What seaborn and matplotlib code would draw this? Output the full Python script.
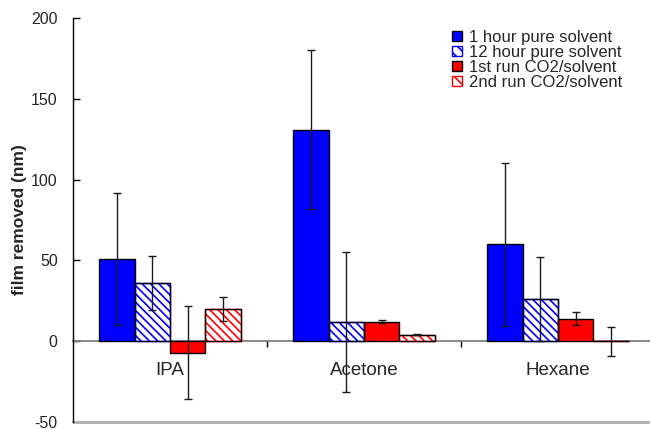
import numpy as np
import pandas as pd
import matplotlib
matplotlib.use("Agg")
import matplotlib.pyplot as plt
import matplotlib.patches as mpatches
from matplotlib.ticker import FixedLocator
import seaborn as sns

categories = ["IPA", "Acetone", "Hexane"]
series = ["1 hour pure solvent", "12 hour pure solvent",
          "1st run CO2/solvent", "2nd run CO2/solvent"]
one_hour = [51, 131, 60]
twelve_hour = [36, 12, 26]
first_run = [-7, 12, 14]
second_run = [20, 4, 0]
one_hour_err = [41, 49, 50.5]
twelve_hour_err = [17, 43.5, 26]
first_run_err = [29, 1, 4]
second_run_err = [7.5, 0.4, 9]
yticks = [-50, 0, 50, 100, 150, 200]

values = [one_hour, twelve_hour, first_run, second_run]
errors = [one_hour_err, twelve_hour_err, first_run_err, second_run_err]
colors = ["#0000FF", "#0000FF", "#FF0000", "#FF0000"]
hatched = [False, True, False, True]

sns.set_theme(style="white")
plt.rcParams["font.family"] = ["Liberation Sans", "DejaVu Sans"]
plt.rcParams["hatch.linewidth"] = 1.2

df = pd.DataFrame({
    "solvent": categories * len(series),
    "series": [s for s in series for _ in categories],
    "value": [v for vals in values for v in vals],
})

fig = plt.figure(figsize=(6.5, 4.3), dpi=100)
ax = fig.add_axes([73 / 650, 8 / 430, 582 / 650, 404 / 430])

sns.barplot(data=df, x="solvent", y="value", hue="series", order=categories,
            hue_order=series, palette=colors, saturation=1, errorbar=None, width=0.73,
            edgecolor="black", linewidth=1, legend=False, ax=ax, zorder=3)

HATCH = "\\\\\\\\"
bar_containers = list(ax.containers)
for i, cont in enumerate(bar_containers):
    xs = []
    for bar in cont:
        xs.append(bar.get_x() + bar.get_width() / 2)
        if hatched[i]:
            bar.set_facecolor("white")
            bar.set_hatch(HATCH)
            if hasattr(bar, "set_hatchcolor"):
                bar.set_hatchcolor(colors[i])
                bar.set_edgecolor("black")
            else:
                bar.set_edgecolor(colors[i])
                outline = mpatches.Rectangle(bar.get_xy(), bar.get_width(), bar.get_height(),
                                             fill=False, edgecolor="black", linewidth=1, zorder=4)
                ax.add_patch(outline)
    ax.errorbar(xs, values[i], yerr=errors[i], fmt="none", ecolor="#1a1a1a",
                elinewidth=1, capsize=3, capthick=1, zorder=5)

ax.set_xlim(-0.5, 2.5)
ax.set_ylim(-50, 200)
ax.set_yticks(yticks)
ax.set_yticklabels([str(t) for t in yticks])
ax.set_xlabel("")
ax.set_ylabel("film removed (nm)", fontsize=12.5, fontweight="bold", labelpad=3)

for s in ["top", "right"]:
    ax.spines[s].set_visible(False)
ax.spines["left"].set_color("black")
ax.spines["left"].set_linewidth(1)
ax.spines["bottom"].set_position(("data", 0))
ax.spines["bottom"].set_color("#808080")
ax.spines["bottom"].set_linewidth(1.3)
ax.spines["bottom"].set_zorder(2)
ax.axhline(-50, color="#b0b0b0", linewidth=2, zorder=1, clip_on=False)

ax.tick_params(axis="y", direction="in", length=5, width=1, color="black",
               labelsize=11.5, pad=11, left=True)
ax.tick_params(axis="x", which="major", length=0, labelsize=13.5, pad=15, bottom=True)
ax.xaxis.set_minor_locator(FixedLocator([0.5, 1.5]))
ax.tick_params(axis="x", which="minor", direction="out", length=4, width=1,
               color="black", bottom=True)

handles = []
for i, s in enumerate(series):
    if hatched[i]:
        p = mpatches.Patch(facecolor="white", hatch="\\\\\\", label=s)
        if hasattr(p, "set_hatchcolor"):
            p.set_hatchcolor(colors[i])
            p.set_edgecolor("black")
        else:
            p.set_edgecolor(colors[i])
    else:
        p = mpatches.Patch(facecolor=colors[i], edgecolor="black", label=s)
    handles.append(p)
fig.legend(handles=handles, loc="upper left", bbox_to_anchor=(452 / 650, 1 - 30 / 430),
           frameon=False, fontsize=12, handlelength=0.6, handleheight=0.6,
           handletextpad=0.4, labelspacing=0.0, borderpad=0, borderaxespad=0)

fig.savefig("out.png", dpi=100)
